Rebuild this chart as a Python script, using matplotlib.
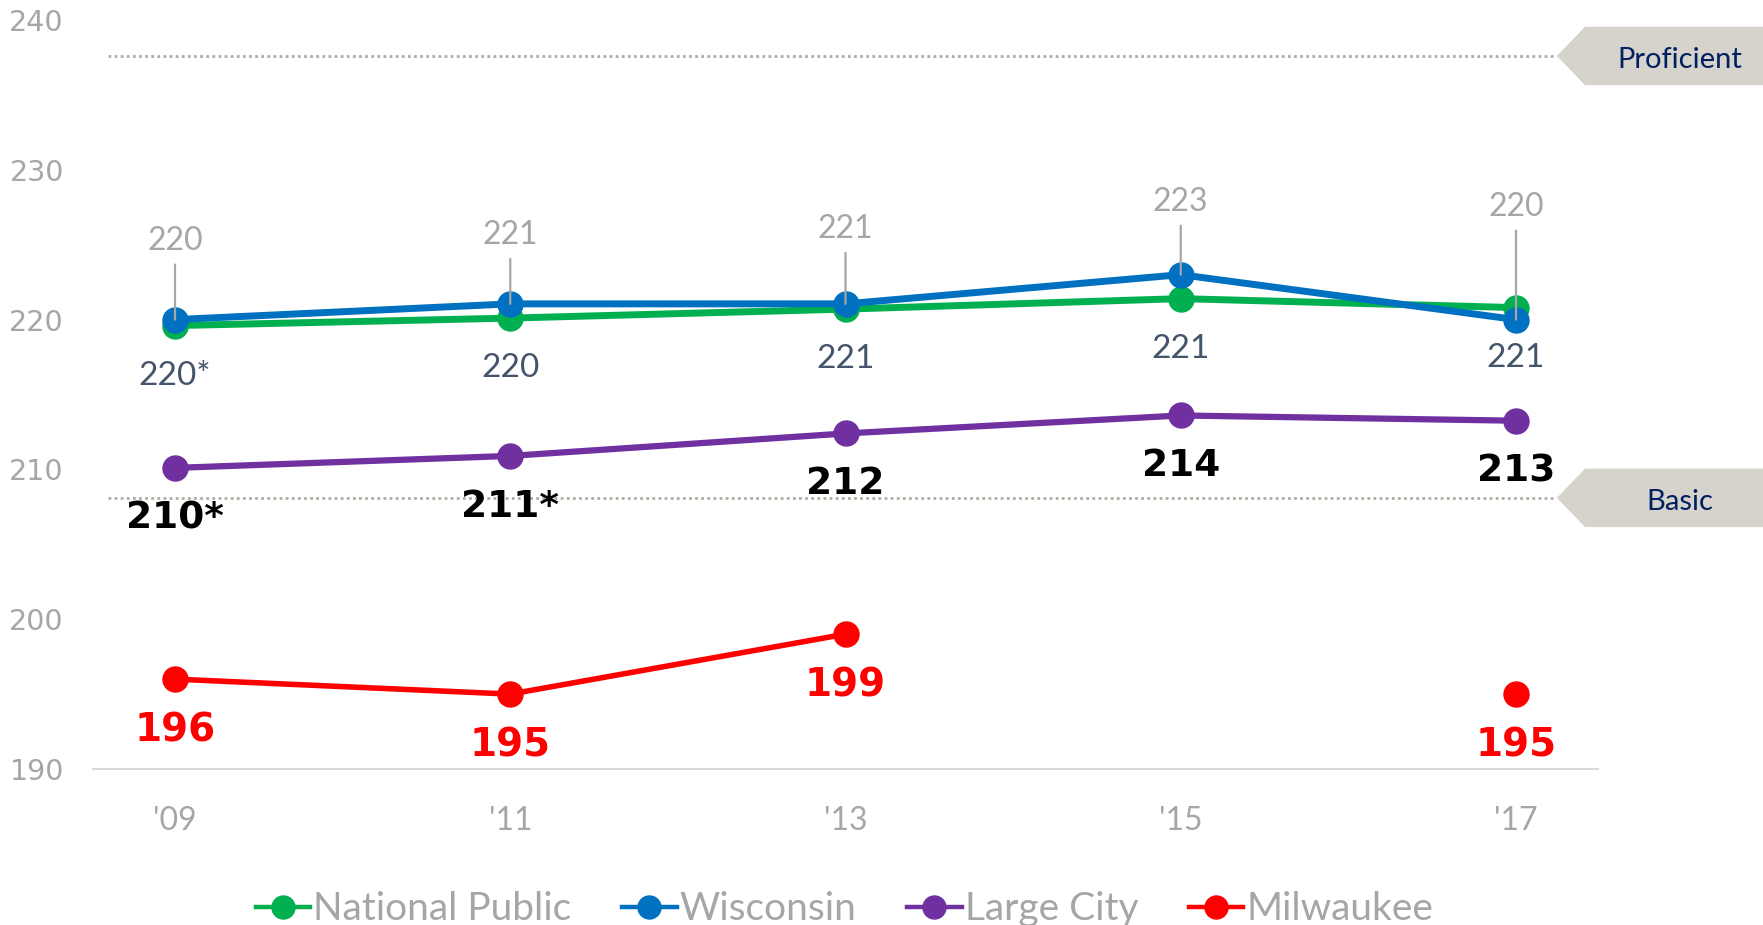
import numpy as np
import matplotlib.pyplot as plt
from matplotlib.patches import Polygon

years = ["'09", "'11", "'13", "'15", "'17"]

national = [219.6, 220.1, 220.7, 221.4, 220.8]
national_lbl = ['220*', '220', '221', '221', '221']

wisconsin = [220.0, 221.05, 221.05, 223.0, 220.0]
wisconsin_lbl = ['220', '221', '221', '223', '220']

large_city = [210.1, 210.9, 212.4, 213.6, 213.25]
large_city_lbl = ['210*', '211*', '212', '214', '213']

milwaukee = [196.0, 195.0, 199.0, np.nan, 195.0]
milwaukee_lbl = ['196', '195', '199', '', '195']

levels = [237.6, 208.1]
level_names = ['Proficient', 'Basic']

# layout (pixels)
W, H = 1763, 925
wi_lift = [79, 69, 75, 73, 113]

GREEN, BLUE, PURPLE, RED = '#00b050', '#0070c0', '#7030a0', '#ff0000'
GREY = '#a6a6a6'

fig = plt.figure(figsize=(W / 100, H / 100), dpi=100)
ax = fig.add_axes([93 / W, 1 - 769 / H, (1598 - 93) / W, (769 - 20) / H])
x = np.arange(len(years))
ax.set_xlim(-0.2446, 4.2446)
ax.set_ylim(190, 240)

# reference levels with tag shapes on the right
for lev, name in zip(levels, level_names):
    ax.plot([-0.2, 4.12], [lev, lev], color='#b3aba1', lw=2,
            linestyle=(0, (1, 1.2)), zorder=1)
    poly = Polygon([[4.122, lev], [4.206, lev + 1.95], [4.9, lev + 1.95],
                    [4.9, lev - 1.95], [4.206, lev - 1.95]],
                   closed=True, facecolor='#d6d2cc', edgecolor='none',
                   clip_on=False, zorder=1)
    ax.add_patch(poly)
    ax.annotate(name, xy=(4.49, lev), xytext=(0, -4), textcoords='offset pixels',
                ha='center', va='center', color='#002060',
                fontsize=21, family='Lato', annotation_clip=False)

ax.plot(x, national, color=GREEN, lw=5, marker='o', ms=18, label='National Public', zorder=3)
ax.plot(x, wisconsin, color=BLUE, lw=5, marker='o', ms=18, label='Wisconsin', zorder=4)
ax.plot(x, large_city, color=PURPLE, lw=4.5, marker='o', ms=18, label='Large City', zorder=3)
ax.plot(x, milwaukee, color=RED, lw=4, marker='o', ms=18, label='Milwaukee', zorder=3)

for i in range(len(years)):
    # Wisconsin labels above, with leader lines
    ax.annotate('', xy=(x[i], wisconsin[i]), xytext=(0, wi_lift[i] - 24),
                textcoords='offset pixels',
                arrowprops=dict(arrowstyle='-', color=GREY, lw=1.6,
                                shrinkA=0, shrinkB=0), zorder=6)
    ax.annotate(wisconsin_lbl[i], xy=(x[i], wisconsin[i]), xytext=(0, wi_lift[i]),
                textcoords='offset pixels', ha='center', va='center',
                color=GREY, fontsize=23, family='Lato')
    ax.annotate(national_lbl[i], xy=(x[i], national[i]), xytext=(0, -50),
                textcoords='offset pixels', ha='center', va='center',
                color='#44546a', fontsize=24, family='Lato')
    ax.annotate(large_city_lbl[i], xy=(x[i], large_city[i]), xytext=(0, -51),
                textcoords='offset pixels', ha='center', va='center',
                color='black', fontsize=27, fontweight='bold', family='DejaVu Sans')
    if milwaukee_lbl[i]:
        ax.annotate(milwaukee_lbl[i], xy=(x[i], milwaukee[i]), xytext=(0, -51),
                    textcoords='offset pixels', ha='center', va='center',
                    color=RED, fontsize=28, fontweight='bold',
                    family=['Liberation Sans Narrow', 'DejaVu Sans'])

ax.set_xticks(x)
ax.set_xticklabels(years, fontsize=23, color=GREY, family='Lato')
ax.set_yticks(np.arange(190, 241, 10))
ax.set_yticklabels([str(v) for v in range(190, 241, 10)], fontsize=20.5,
                   color=GREY, family='DejaVu Sans')
ax.tick_params(axis='x', length=0, pad=27)
ax.tick_params(axis='y', length=0, pad=21)
for s in ['top', 'right', 'left']:
    ax.spines[s].set_visible(False)
ax.spines['bottom'].set_color('#d9d9d9')
ax.spines['bottom'].set_linewidth(1.5)

handles, labels = ax.get_legend_handles_labels()
leg = fig.legend(handles, labels, loc='center', bbox_to_anchor=(0.479, 0.017),
                 ncol=4, frameon=False, handlelength=1.4, handletextpad=0.08,
                 columnspacing=1.3, markerscale=0.92,
                 prop={'family': 'Lato', 'size': 28})
for t in leg.get_texts():
    t.set_color(GREY)
for h in leg.legend_handles:
    h.set_linewidth(3.2)

fig.savefig('out.png', dpi=100)
